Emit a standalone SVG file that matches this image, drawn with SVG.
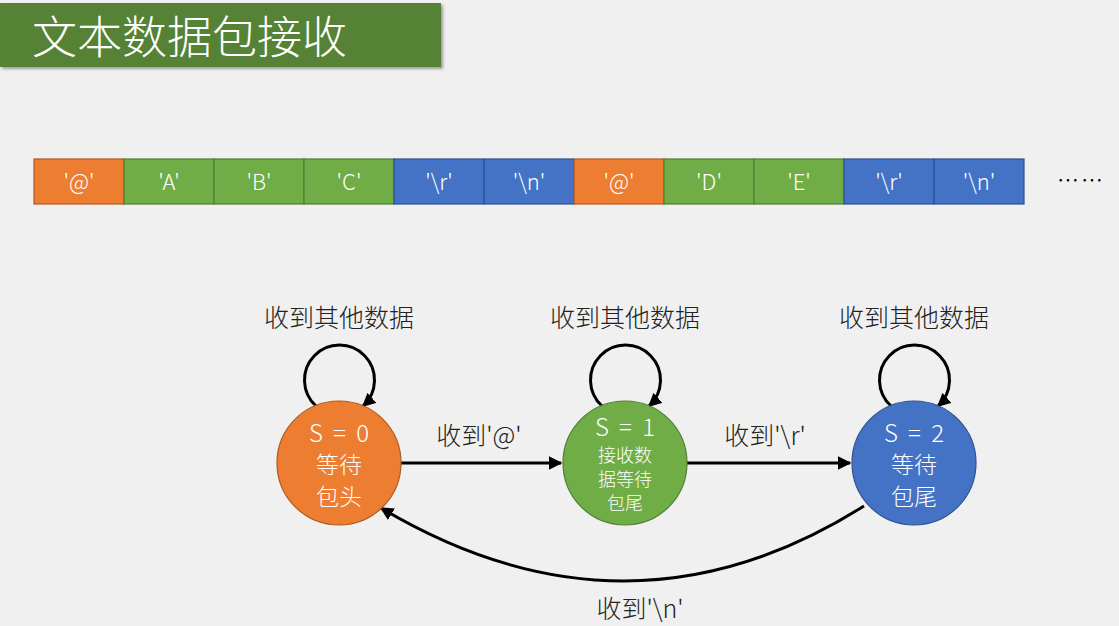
<svg xmlns="http://www.w3.org/2000/svg" width="1119" height="626" viewBox="0 0 1119 626">
<defs>
<filter id="sh" x="-5%" y="-20%" width="115%" height="150%"><feDropShadow dx="2" dy="2" stdDeviation="1.5" flood-color="#000" flood-opacity="0.35"/></filter>
<marker id="ah" viewBox="0 0 10 10" refX="9" refY="5" markerWidth="4.5" markerHeight="4.5" orient="auto" markerUnits="strokeWidth"><path d="M0,0 L10,5 L0,10 Z" fill="#000"/></marker>
</defs>
<style>
text{font-family:"Noto Sans CJK SC","Liberation Sans",sans-serif;font-weight:300;}
.cell text,.w{fill:#fff;text-anchor:middle;}
.cell text{font-size:22px;}
.o{fill:#ED7D31;stroke:#AE5A21;stroke-width:1.2}
.g{fill:#70AD47;stroke:#507E32;stroke-width:1.2}
.b{fill:#4472C4;stroke:#2F528F;stroke-width:1.2}
.lbl{font-size:25px;fill:#222;text-anchor:middle;}
.st{word-spacing:5px;}
.edge{fill:none;stroke:#000;stroke-width:3;marker-end:url(#ah);}
</style>
<rect width="1119" height="626" fill="#F0F0F0"/>
<g id="title">
<rect x="0" y="3" width="441" height="64" fill="#548235" filter="url(#sh)"/>
<text x="32" y="54" font-size="45" fill="#fff">文本数据包接收</text>
</g>
<g id="stream" class="cell">
<rect x="34" y="159" width="90" height="45" class="o"/><text x="79" y="190">'@'</text>
<rect x="124" y="159" width="90" height="45" class="g"/><text x="169" y="190">'A'</text>
<rect x="214" y="159" width="90" height="45" class="g"/><text x="259" y="190">'B'</text>
<rect x="304" y="159" width="90" height="45" class="g"/><text x="349" y="190">'C'</text>
<rect x="394" y="159" width="90" height="45" class="b"/><text x="439" y="190">'\r'</text>
<rect x="484" y="159" width="90" height="45" class="b"/><text x="529" y="190">'\n'</text>
<rect x="574" y="159" width="90" height="45" class="o"/><text x="619" y="190">'@'</text>
<rect x="664" y="159" width="90" height="45" class="g"/><text x="709" y="190">'D'</text>
<rect x="754" y="159" width="90" height="45" class="g"/><text x="799" y="190">'E'</text>
<rect x="844" y="159" width="90" height="45" class="b"/><text x="889" y="190">'\r'</text>
<rect x="934" y="159" width="90" height="45" class="b"/><text x="979" y="190">'\n'</text>
</g>
<text x="1081" y="188" font-size="22" fill="#000" text-anchor="middle" letter-spacing="2">……</text>
<g id="connectors">
<path class="edge" d="M316,406 A35,35 0 1 1 363,406"/>
<path class="edge" d="M602,406 A35,35 0 1 1 649,406"/>
<path class="edge" d="M891,406 A35,35 0 1 1 938,406"/>
<path class="edge" d="M401,463 L561,463"/>
<path class="edge" d="M687,463 L850,463"/>
<path class="edge" d="M864,506 Q628,655 381,508"/>
<text class="lbl" x="339" y="327">收到其他数据</text>
<text class="lbl" x="625" y="327">收到其他数据</text>
<text class="lbl" x="914" y="327">收到其他数据</text>
<text class="lbl" x="479" y="445">收到'@'</text>
<text class="lbl" x="765" y="445">收到'\r'</text>
<text class="lbl" x="640" y="618">收到'\n'</text>
</g>
<g id="s0">
<circle cx="339" cy="463" r="62" class="o"/>
<text class="w st" x="339" y="442" font-size="24">S = 0</text>
<text class="w" x="339" y="473" font-size="23">等待</text>
<text class="w" x="339" y="505" font-size="23">包头</text>
</g>
<g id="s1">
<circle cx="625" cy="463" r="62" class="g"/>
<text class="w st" x="625" y="436" font-size="24">S = 1</text>
<text class="w" x="625" y="462" font-size="18">接收数</text>
<text class="w" x="625" y="486" font-size="18">据等待</text>
<text class="w" x="625" y="510" font-size="18">包尾</text>
</g>
<g id="s2">
<circle cx="914" cy="463" r="62" class="b"/>
<text class="w st" x="914" y="442" font-size="24">S = 2</text>
<text class="w" x="914" y="473" font-size="23">等待</text>
<text class="w" x="914" y="505" font-size="23">包尾</text>
</g>
</svg>
